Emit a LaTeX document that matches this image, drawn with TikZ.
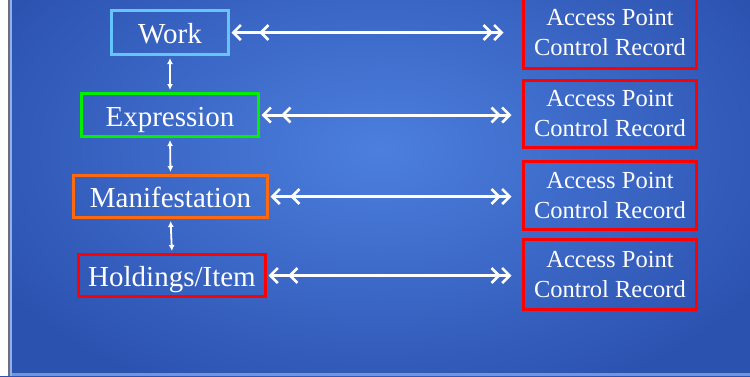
\documentclass[tikz,border=0pt]{standalone}
\usepackage{fontspec}
\setmainfont{Liberation Serif}
\usetikzlibrary{arrows.meta}

\definecolor{bgcenter}{HTML}{4C7FDE}
\definecolor{bgedge}{HTML}{2C52B0}
\definecolor{workblue}{HTML}{66C4FF}
\definecolor{exprgreen}{HTML}{00F000}
\definecolor{maniorange}{HTML}{FF6A10}
\definecolor{holdred}{HTML}{FF0000}
\definecolor{stripgrey}{HTML}{6E6E78}
\definecolor{stripblue}{HTML}{8FB0F0}

\tikzset{
  entity/.style={draw, line width=3pt, text=white, inner sep=0pt,
    text height=22pt, text depth=0pt,
    font=\fontsize{29}{32}\selectfont},
  access/.style={draw=holdred, line width=3pt, text=white, inner sep=0pt,
    align=center, minimum width=173, minimum height=67,
    font=\fontsize{24.5}{30}\selectfont},
  link/.style={white, line width=3pt,
    arrows={Straight Barb[length=7.5pt,width=15pt,line width=2.6pt]
            Straight Barb[length=7.5pt,width=15pt,line width=2.6pt,sep=#1]-%
            Straight Barb[length=7.5pt,width=15pt,line width=2.6pt]
            Straight Barb[length=7.5pt,width=15pt,line width=2.6pt,sep=#1]}},
  link/.default=7pt,
  level/.style={white, line width=1.8pt, shorten >=2pt, shorten <=2pt,
    {Latex[length=6pt,width=6pt]}-{Latex[length=6pt,width=6pt]}}
}

\begin{document}
\begin{tikzpicture}[x=1pt,y=-1pt]
  \useasboundingbox (0,0) rectangle (750,376);
  \clip (0,0) rectangle (750,376);

  % slide background
  \shade[inner color=bgcenter, outer color=bgedge] (-60,-120) rectangle (820,420);
  \fill[white] (0,0) rectangle (8,376);
  \fill[stripgrey] (8,0) rectangle (10,376);
  \fill[stripblue] (10,0) rectangle (11.5,376);
  \fill[stripblue!70!bgedge] (11.5,373) rectangle (750,376);

  % FRBR entities
  \node[entity, draw=workblue, minimum width=117, minimum height=44] (work) at (170,32.5) {Work};
  \node[entity, draw=exprgreen, minimum width=177, minimum height=43] (expr) at (170,115) {Expression};
  \node[entity, draw=maniorange, minimum width=194, minimum height=42] (mani) at (170.5,196.5) {Manifestation};
  \node[entity, draw=holdred, minimum width=187, minimum height=42] (hold) at (172,275.5) {Holdings/Item};

  % access point control records
  \node[access, minimum height=70] (ap1) at (610,33) {Access Point\\Control Record};
  \node[access] (ap2) at (610,114) {Access Point\\Control Record};
  \node[access, minimum height=68] (ap3) at (610,195.5) {Access Point\\Control Record};
  \node[access, minimum height=70] (ap4) at (610,274.5) {Access Point\\Control Record};

  % links between levels
  \draw[level] (work.south) -- (expr.north);
  \draw[level] (expr.south) -- (mani.north);
  \draw[level] (mani.south) -- (hold.north);

  % links to access points
  \draw[link=17pt] ([xshift=1.5pt]work.east) -- ([xshift=-1.5pt]ap1.west |- work.east);
  \draw[link=9pt] ([xshift=1.5pt]expr.east) -- ([xshift=-1.5pt]ap2.west |- expr.east);
  \draw[link=9pt] ([xshift=1.5pt]mani.east) -- ([xshift=-1.5pt]ap3.west |- mani.east);
  \draw[link=9pt] ([xshift=1.5pt]hold.east) -- ([xshift=-1.5pt]ap4.west |- hold.east);
\end{tikzpicture}
\end{document}
